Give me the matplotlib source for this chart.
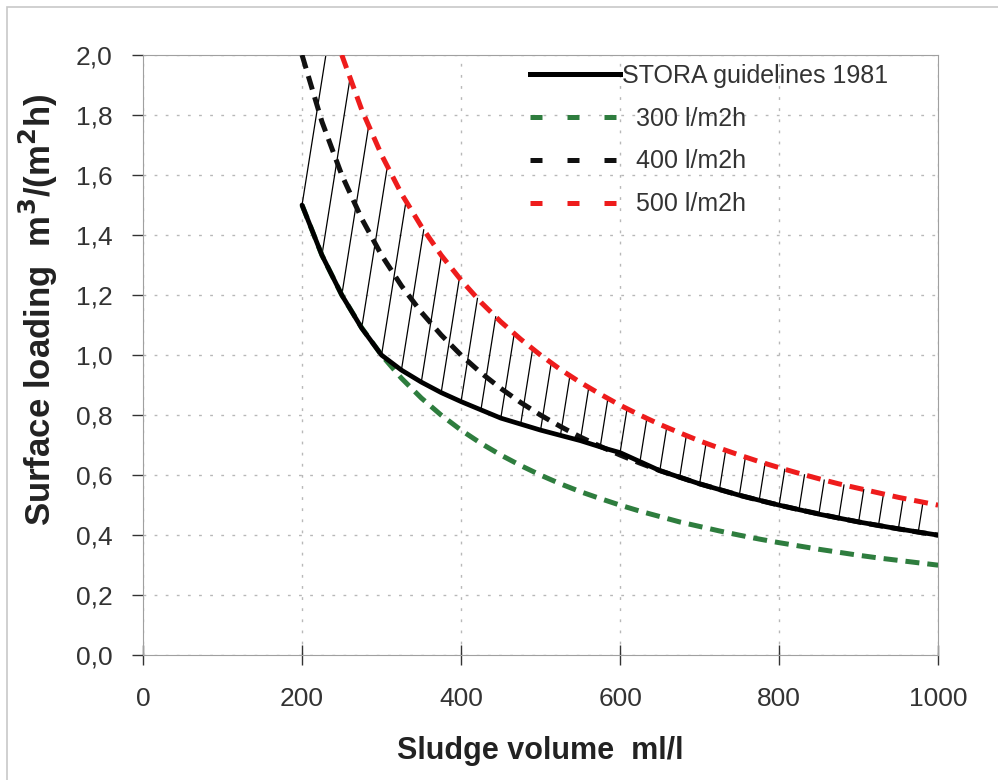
import numpy as np
import matplotlib
matplotlib.use("Agg")
import matplotlib.pyplot as plt
from matplotlib.lines import Line2D
from matplotlib.patches import Rectangle

plt.rcParams['font.family'] = ['Liberation Sans', 'DejaVu Sans']

# sludge volume grid (ml/l)
sv = [200, 225, 250, 275, 300, 325, 350, 375, 400, 425, 450, 475, 500, 525, 550, 575,
      600, 625, 650, 675, 700, 725, 750, 775, 800, 825, 850, 875, 900, 925, 950, 975, 1000]

load_300 = [1.5, 1.333, 1.2, 1.091, 1.0, 0.923, 0.857, 0.8, 0.75, 0.706, 0.667, 0.632, 0.6,
            0.571, 0.545, 0.522, 0.5, 0.48, 0.462, 0.444, 0.429, 0.414, 0.4, 0.387, 0.375,
            0.364, 0.353, 0.343, 0.333, 0.324, 0.316, 0.308, 0.3]
load_400 = [2.0, 1.778, 1.6, 1.455, 1.333, 1.231, 1.143, 1.067, 1.0, 0.941, 0.889, 0.842, 0.8,
            0.762, 0.727, 0.696, 0.667, 0.64, 0.615, 0.593, 0.571, 0.552, 0.533, 0.516, 0.5,
            0.485, 0.471, 0.457, 0.444, 0.432, 0.421, 0.41, 0.4]

sv_500 = sv[2:]
load_500 = [2.0, 1.818, 1.667, 1.538, 1.429, 1.333, 1.25, 1.176, 1.111, 1.053, 1.0, 0.952,
            0.909, 0.87, 0.833, 0.8, 0.769, 0.741, 0.714, 0.69, 0.667, 0.645, 0.625, 0.606,
            0.588, 0.571, 0.556, 0.541, 0.526, 0.513, 0.5]

sv_stora = [200, 225, 250, 275, 300, 325, 350, 375, 400, 450, 500, 550, 580, 600, 650,
            700, 750, 800, 850, 900, 950, 1000]
load_stora = [1.5, 1.333, 1.2, 1.09, 1.0, 0.95, 0.91, 0.875, 0.845, 0.79, 0.75, 0.715,
              0.69, 0.675, 0.615, 0.571, 0.533, 0.5, 0.47, 0.444, 0.421, 0.4]

fig = plt.figure(figsize=(9.98, 7.8), dpi=100)
ax = fig.add_axes([0.1433, 0.160, 0.7967, 0.7695])

# outer frame
fig.patches.append(Rectangle((7 / 998, -0.05), 1.1, 1 - 7 / 780 + 0.05,
                             transform=fig.transFigure, fill=False,
                             edgecolor='#c8c8c8', linewidth=1.2))

# hatch lines between STORA curve and 500 l/m2h curve
slope = 60.0
for x1 in sv[:-1]:
    y1 = np.interp(x1, sv_stora, load_stora)
    x2 = x1
    for _ in range(20):
        y2 = min(np.interp(x2, sv_500, load_500), 2.0)
        x2 = x1 + slope * (y2 - y1)
    ax.plot([x1, x2], [y1, y2], color='black', lw=0.9, zorder=2)

dash = (2.8, 1.6)
ax.plot(sv, load_300, color='#2e7d3e', lw=3.6, dashes=dash, zorder=3)
ax.plot(sv, load_400, color='#111111', lw=3.6, dashes=dash, zorder=3)
ax.plot(sv_500, load_500, color='#ee1c1c', lw=3.6, dashes=dash, zorder=3)
ax.plot(sv_stora, load_stora, color='black', lw=3.4, zorder=4, solid_capstyle='round')

ax.set_xlim(0, 1000)
ax.set_ylim(0, 2.0)
ax.set_xticks(np.arange(0, 1001, 200))
ax.set_yticks(np.arange(0, 2.01, 0.2))
ax.set_yticklabels([f"{v:.1f}".replace('.', ',') for v in np.arange(0, 2.01, 0.2)])
ax.tick_params(labelsize=19, colors='#333333', length=8, width=1)
ax.tick_params(axis='x', direction='inout', length=14, pad=16)
ax.tick_params(axis='y', direction='out', pad=14)
for s in ax.spines.values():
    s.set_color('#a0a0a0')
ax.grid(True, color='#b8b8b8', linestyle=(0, (2, 6)), linewidth=1)

ax.set_xlabel("Sludge volume  ml/l", fontsize=22, fontweight='bold', color='#222222',
              labelpad=18)
ax.set_ylabel("Surface loading  m$^\\mathbf{3}$/(m$^\\mathbf{2}$h)", fontsize=25,
              fontweight='bold', color='#222222')
ax.yaxis.set_label_coords(-0.105, 0.575)

handles = [
    Line2D([], [], color='black', lw=3.6),
    Line2D([], [], color='#2e7d3e', lw=3.6, dashes=(2.4, 5.0)),
    Line2D([], [], color='#111111', lw=3.6, dashes=(2.4, 5.0)),
    Line2D([], [], color='#ee1c1c', lw=3.6, dashes=(2.4, 5.0)),
]
labels = ["STORA guidelines 1981", "  300 l/m2h", "  400 l/m2h", "  500 l/m2h"]
ax.legend(handles, labels, loc='upper left', bbox_to_anchor=(530 / 998, 1 - 64 / 780),
          bbox_transform=fig.transFigure, frameon=False, fontsize=18, handlelength=3.6,
          handletextpad=0.1, labelspacing=0.75, borderpad=0, borderaxespad=0,
          labelcolor='#333333')

fig.savefig("out.png", dpi=100)
